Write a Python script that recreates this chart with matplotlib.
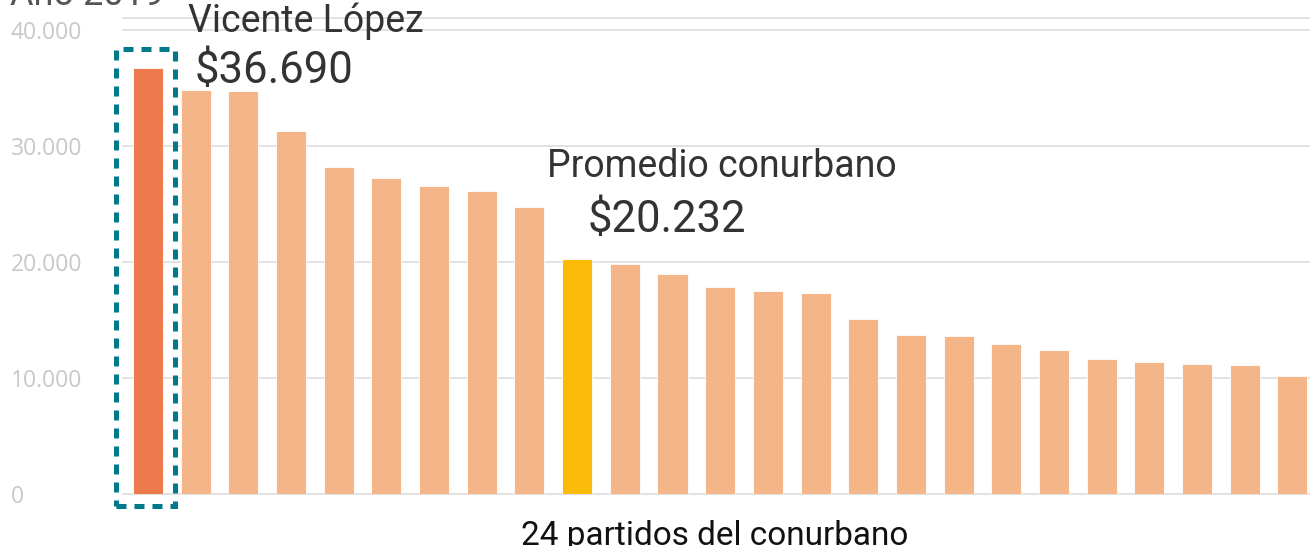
import numpy as np
import matplotlib.pyplot as plt
from matplotlib.patches import Rectangle

# Salario / gasto por habitante - 24 partidos del conurbano + promedio
values = [36690, 34830, 34740, 31290, 28190, 27240, 26550, 26120, 24740,
          20232, 19830, 18970, 17840, 17500, 17330, 15090, 13710, 13620,
          12900, 12410, 11640, 11380, 11180, 11090, 10150]
highlight_idx = 0
average_idx = 9
yticks = [0, 10000, 20000, 30000, 40000]
ytick_labels = ["0", "10.000", "20.000", "30.000", "40.000"]

base_color = "#F4B688"
top_color = "#EC7A4C"
avg_color = "#F9BB07"
box_color = "#007A8A"

colors = [base_color] * len(values)
colors[highlight_idx] = top_color
colors[average_idx] = avg_color

fig = plt.figure(figsize=(13.1, 5.46), dpi=100)
ax = fig.add_axes([123 / 1310, 1 - 494 / 546, 1 - 123 / 1310, (494 - 18) / 546])

x = np.arange(len(values))
ax.bar(x, values, width=0.63, color=colors, edgecolor="white", linewidth=0.6, zorder=3)

ax.set_xlim(-0.524, 24.37)
ax.set_ylim(0, 41000)

# grid
for t in yticks + [41000]:
    ax.axhline(t, color="#dddddd", lw=1.2, zorder=1, clip_on=False)
for s in ax.spines.values():
    s.set_visible(False)
ax.set_xticks([])
ax.set_yticks(yticks)
ax.set_yticklabels(ytick_labels, fontsize=16.5, color="#c8c8c8", family="Open Sans", ha="left")
ax.tick_params(axis="y", length=0, pad=81)

# dashed box around the highlighted bar
rect = Rectangle((highlight_idx - 0.67, -1000), 1.235, values[highlight_idx] + 2600,
                 fill=False, edgecolor=box_color, lw=3.6, linestyle=(0, (2.0, 1.6)),
                 capstyle="butt", zorder=4, clip_on=False)
ax.add_patch(rect)

font = "Roboto"
ax.text(highlight_idx + 0.84, 39830, "Vicente López", fontsize=27, color="#333333",
        family=font, ha="left", va="baseline", clip_on=False)
ax.text(highlight_idx + 0.98, 35430, "$36.690", fontsize=31.4, color="#333333",
        family=font, ha="left", va="baseline", clip_on=False)
ax.text(average_idx + 3.04, 27330, "Promedio conurbano", fontsize=27, color="#333333",
        family=font, ha="center", va="baseline")
ax.text(average_idx + 1.89, 22590, "$20.232", fontsize=31.4, color="#333333",
        family=font, ha="center", va="baseline")

fig.text(10 / 1310, 1 - 5 / 546, "Año 2019", fontsize=26, color="#555555",
         family=font, ha="left", va="baseline")
fig.text(715 / 1310, 1 - 545 / 546, "24 partidos del conurbano", fontsize=24,
         color="#111111", family=font, ha="center", va="baseline")

fig.savefig("out.png", dpi=100)
